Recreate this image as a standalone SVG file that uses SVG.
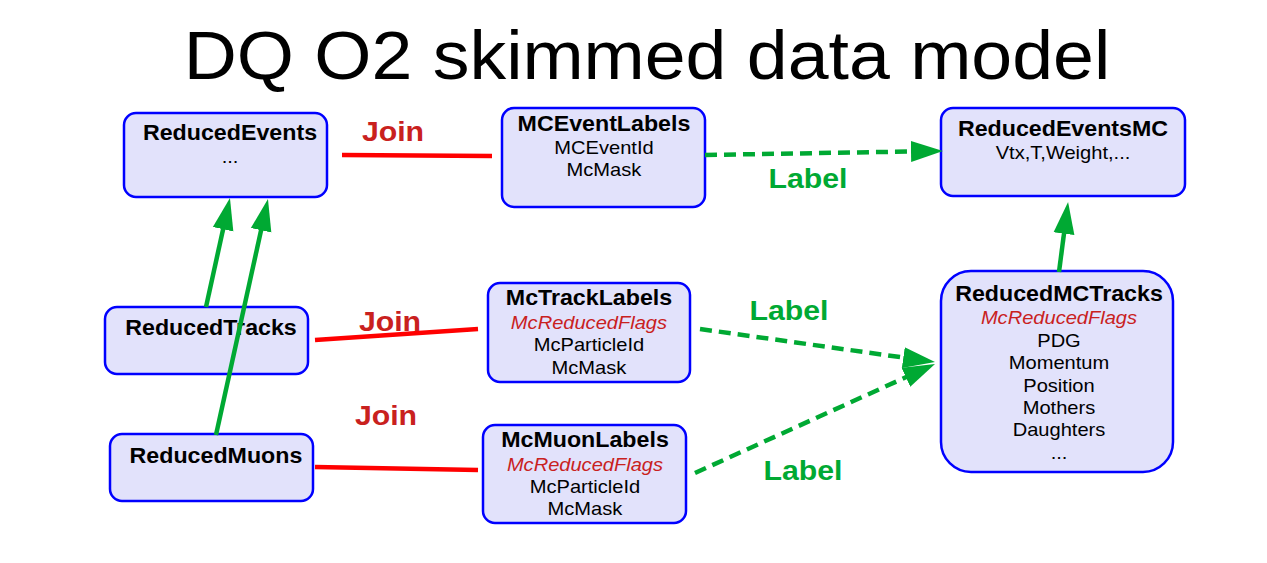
<svg xmlns="http://www.w3.org/2000/svg" width="1267" height="563" viewBox="0 0 1267 563">
<style>
text { font-family: "Liberation Sans", Arial, sans-serif; text-anchor: middle; fill: #000; transform-box: fill-box; transform-origin: center; transform: scaleX(1.08); }
.title { font-size: 68px; }
.h { font-size: 21.5px; font-weight: bold; }
.b { font-size: 18.6px; }
.f { font-size: 18.6px; font-style: italic; fill: #c9211e; }
.join { font-size: 28px; font-weight: bold; fill: #c9211e; }
.lab { font-size: 28px; font-weight: bold; fill: #00a933; }
.box { fill: #e2e2fb; stroke: #0000ff; stroke-width: 2.5; }
.red { stroke: #ff0000; stroke-width: 4.5; fill: none; }
.grn { stroke: #00a933; stroke-width: 4.5; fill: none; }
.dash { stroke-dasharray: 12 7; }
</style>
<defs>
<marker id="ah" viewBox="0 -11 33 22" markerWidth="33" markerHeight="22" refX="1" refY="0" markerUnits="userSpaceOnUse" orient="auto">
<path d="M0,-10.5 L32,0 L0,10.5 z" fill="#00a933"/>
</marker>
</defs>
<rect width="1267" height="563" fill="#ffffff"/>
<text class="title" x="647" y="79">DQ O2 skimmed data model</text>
<g id="node-reducedevents">
<rect class="box" x="124" y="113" width="203" height="84" rx="12"/>
<text class="h" x="230" y="140">ReducedEvents</text>
<text class="b" x="230" y="163">...</text>
</g>
<g id="node-mceventlabels">
<rect class="box" x="502" y="108" width="203" height="99" rx="12"/>
<text class="h" x="604" y="131">MCEventLabels</text>
<text class="b" x="604" y="154">MCEventId</text>
<text class="b" x="604" y="176">McMask</text>
</g>
<g id="node-reducedeventsmc">
<rect class="box" x="941" y="108" width="244" height="88" rx="12"/>
<text class="h" x="1063" y="136">ReducedEventsMC</text>
<text class="b" x="1063" y="159">Vtx,T,Weight,...</text>
</g>
<g id="node-reducedtracks">
<rect class="box" x="105" y="307" width="203" height="67" rx="12"/>
<text class="h" x="211" y="335">ReducedTracks</text>
</g>
<g id="node-mctracklabels">
<rect class="box" x="488" y="283" width="202" height="99" rx="12"/>
<text class="h" x="589" y="305">McTrackLabels</text>
<text class="f" x="589" y="329">McReducedFlags</text>
<text class="b" x="589" y="351">McParticleId</text>
<text class="b" x="589" y="374">McMask</text>
</g>
<g id="node-reducedmuons">
<rect class="box" x="110" y="434" width="203" height="67" rx="12"/>
<text class="h" x="216" y="463">ReducedMuons</text>
</g>
<g id="node-mcmuonlabels">
<rect class="box" x="483" y="425" width="203" height="98" rx="12"/>
<text class="h" x="585" y="447">McMuonLabels</text>
<text class="f" x="585" y="471">McReducedFlags</text>
<text class="b" x="585" y="493">McParticleId</text>
<text class="b" x="585" y="515">McMask</text>
</g>
<g id="node-reducedmctracks">
<rect class="box" x="941" y="271" width="232" height="201" rx="30"/>
<text class="h" x="1059" y="301">ReducedMCTracks</text>
<text class="f" x="1059" y="324">McReducedFlags</text>
<text class="b" x="1059" y="347">PDG</text>
<text class="b" x="1059" y="369">Momentum</text>
<text class="b" x="1059" y="392">Position</text>
<text class="b" x="1059" y="414">Mothers</text>
<text class="b" x="1059" y="436">Daughters</text>
<text class="b" x="1059" y="459">...</text>
</g>
<g id="connectors">
<path class="red" d="M342,155 L492,156"/>
<path class="red" d="M315,340 L478,329"/>
<path class="red" d="M315,467 L478,470"/>
<path class="grn" d="M206,307 L223.3,228.3" marker-end="url(#ah)"/>
<path class="grn" d="M216,435 L261.3,229.3" marker-end="url(#ah)"/>
<path class="grn" d="M1059,272 L1064.1,232.7" marker-end="url(#ah)"/>
<path class="grn dash" d="M705,155 L912,151.5" marker-end="url(#ah)"/>
<path class="grn dash" d="M700,329 L904.3,357.7" marker-end="url(#ah)"/>
<path class="grn dash" d="M695,473 L906.8,376.8" marker-end="url(#ah)"/>
<text class="join" x="393" y="141">Join</text>
<text class="join" x="390" y="331">Join</text>
<text class="join" x="386" y="425">Join</text>
<text class="lab" x="808" y="188">Label</text>
<text class="lab" x="789" y="320">Label</text>
<text class="lab" x="803" y="480">Label</text>
</g>
</svg>
